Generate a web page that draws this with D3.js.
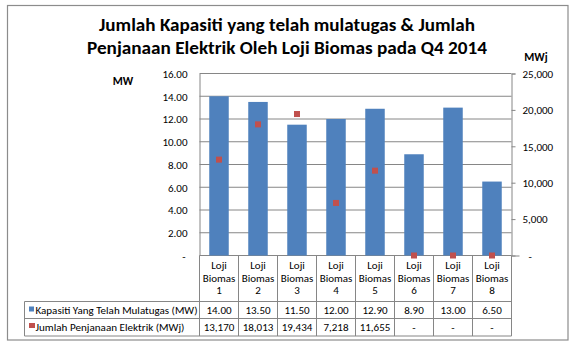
<!DOCTYPE html>
<html>
<head>
<meta charset="utf-8">
<script src="https://cdn.jsdelivr.net/npm/d3@7"></script>
<style>
  body { margin: 0; background: #fff; }
  text { font-family: Carlito, Calibri, Lato, "Open Sans", sans-serif; fill: #000; }
</style>
</head>
<body>
<div id="chart"></div>
<script>
// data
const categories = ["Loji Biomas 1", "Loji Biomas 2", "Loji Biomas 3", "Loji Biomas 4",
                    "Loji Biomas 5", "Loji Biomas 6", "Loji Biomas 7", "Loji Biomas 8"];
const kapasiti = [14.00, 13.50, 11.50, 12.00, 12.90, 8.90, 13.00, 6.50];
const penjanaan = [13170, 18013, 19434, 7218, 11655, 0, 0, 0];
const leftTicks = [0, 2, 4, 6, 8, 10, 12, 14, 16];
const rightTicks = [0, 5000, 10000, 15000, 20000, 25000];
const seriesNames = ["Kapasiti Yang Telah Mulatugas (MW)", "Jumlah Penjanaan Elektrik (MWj)"];
const titleLines = ["Jumlah Kapasiti yang telah mulatugas & Jumlah",
                    "Penjanaan Elektrik Oleh Loji Biomas pada Q4 2014"];

const W = 575, H = 351;
const blue = "#4F81BD", red = "#C0504D", grid = "#868686";
const plotL = 199.5, plotR = 511.5, plotT = 73.5, plotB = 255.5;
const tableTop = 301.5, tableMid = 318.5, tableBottom = 336, tableLeft = 24.5;

const svg = d3.select("#chart").append("svg")
    .attr("width", W).attr("height", H);

// outer frame
svg.append("rect")
    .attr("x", 7.5).attr("y", 5.5)
    .attr("width", 560.5).attr("height", 334.5)
    .attr("fill", "#fff").attr("stroke", "#8c8c8c").attr("stroke-width", 1.2);

// title
const titleW = [376, 400];
titleLines.forEach((t, i) => {
    svg.append("text")
        .attr("x", 287).attr("y", i === 0 ? 30.7 : 54)
        .attr("text-anchor", "middle")
        .style("font-size", "18px").style("font-weight", "bold")
        .attr("textLength", titleW[i]).attr("lengthAdjust", "spacingAndGlyphs")
        .text(t);
});

const x = d3.scaleBand().domain(categories).range([plotL, plotR])
    .paddingInner(0.5).paddingOuter(0.25);
const yL = d3.scaleLinear().domain([0, 16]).range([plotB, plotT]);
const yR = d3.scaleLinear().domain([0, 25000]).range([plotB, plotT]);

// gridlines
svg.append("g").selectAll("line")
    .data(leftTicks)
    .enter().append("line")
    .attr("x1", plotL).attr("x2", plotR)
    .attr("y1", d => yL(d)).attr("y2", d => yL(d))
    .attr("stroke", grid).attr("stroke-width", 1);

// left axis
const axL = svg.append("g")
    .attr("transform", `translate(${plotL},0)`)
    .call(d3.axisLeft(yL).tickValues(leftTicks).tickSize(0).tickPadding(12)
        .tickFormat(d => d === 0 ? "-" : d.toFixed(2)));
axL.select(".domain").attr("stroke", grid);
axL.selectAll("text").style("font-size", "11px").attr("fill", "#000")
    .attr("dy", "0.35em")
    .attr("dx", d => d === 0 ? -2 : 0);

// right axis
const axR = svg.append("g")
    .attr("transform", `translate(${plotR},0)`)
    .call(d3.axisRight(yR).tickValues(rightTicks).tickSize(4).tickPadding(7)
        .tickFormat(d => d === 0 ? "-" : d3.format(",")(d)));
axR.select(".domain").attr("stroke", grid);
axR.selectAll(".tick line").attr("stroke", grid).attr("x2", d => d === 0 ? 8 : 4);
axR.selectAll("text").style("font-size", "11px").attr("fill", "#000")
    .attr("dy", "0.35em")
    .attr("dx", d => d === 0 ? 6 : 0);

// axis titles
svg.append("text").attr("x", 123).attr("y", 84.5).attr("text-anchor", "middle")
    .style("font-size", "11.5px").style("font-weight", "bold").text("MW");
svg.append("text").attr("x", 536).attr("y", 60.5).attr("text-anchor", "middle")
    .style("font-size", "11.5px").style("font-weight", "bold").text("MWj");

// bars
svg.selectAll(".bar")
    .data(kapasiti)
    .enter().append("rect")
    .attr("class", "bar")
    .attr("x", (d, i) => x(categories[i]))
    .attr("y", d => yL(d))
    .attr("width", x.bandwidth())
    .attr("height", d => yL(0) - yL(d))
    .attr("fill", blue);

// markers
svg.selectAll(".mark")
    .data(penjanaan)
    .enter().append("rect")
    .attr("class", "mark")
    .attr("x", (d, i) => x(categories[i]) + x.bandwidth() / 2 - 3)
    .attr("y", d => yR(d) - 3)
    .attr("width", 6).attr("height", 6)
    .attr("fill", red);

// data table
const tbl = svg.append("g");
const step = x.step();
const edges = d3.range(categories.length + 1).map(i => plotL + i * step);
tbl.selectAll(".vsep")
    .data(edges)
    .enter().append("line")
    .attr("x1", d => d).attr("x2", d => d)
    .attr("y1", plotB).attr("y2", tableBottom)
    .attr("stroke", grid);
[tableTop, tableMid, tableBottom].forEach(yy => {
    tbl.append("line")
        .attr("x1", tableLeft).attr("x2", plotR)
        .attr("y1", yy).attr("y2", yy)
        .attr("stroke", grid);
});
tbl.append("line")
    .attr("x1", tableLeft).attr("x2", tableLeft)
    .attr("y1", tableTop).attr("y2", tableBottom)
    .attr("stroke", grid);

// category labels
categories.forEach(c => {
    const parts = c.split(" ");
    parts.forEach((p, j) => {
        tbl.append("text")
            .attr("x", x(c) + x.bandwidth() / 2)
            .attr("y", 268.8 + j * 12.8)
            .attr("text-anchor", "middle")
            .style("font-size", "11px")
            .text(p);
    });
});

// row values
const rowY = [313.8, 331];
categories.forEach((c, i) => {
    tbl.append("text")
        .attr("x", x(c) + x.bandwidth() / 2).attr("y", rowY[0])
        .attr("text-anchor", "middle").style("font-size", "11px")
        .text(kapasiti[i].toFixed(2));
    tbl.append("text")
        .attr("x", x(c) + x.bandwidth() / 2).attr("y", rowY[1])
        .attr("text-anchor", "middle").style("font-size", "11px")
        .text(penjanaan[i] === 0 ? "-" : d3.format(",")(penjanaan[i]));
});

// legend keys + names
tbl.append("rect").attr("x", 29).attr("y", 306.5).attr("width", 5).attr("height", 5).attr("fill", blue);
tbl.append("rect").attr("x", 29).attr("y", 323).attr("width", 6).attr("height", 5).attr("fill", red);
const nameW = [162, 149];
seriesNames.forEach((n, i) => {
    tbl.append("text")
        .attr("x", 35.5).attr("y", rowY[i])
        .style("font-size", "11px")
        .attr("textLength", nameW[i]).attr("lengthAdjust", "spacingAndGlyphs")
        .text(n);
});
</script>
</body>
</html>
